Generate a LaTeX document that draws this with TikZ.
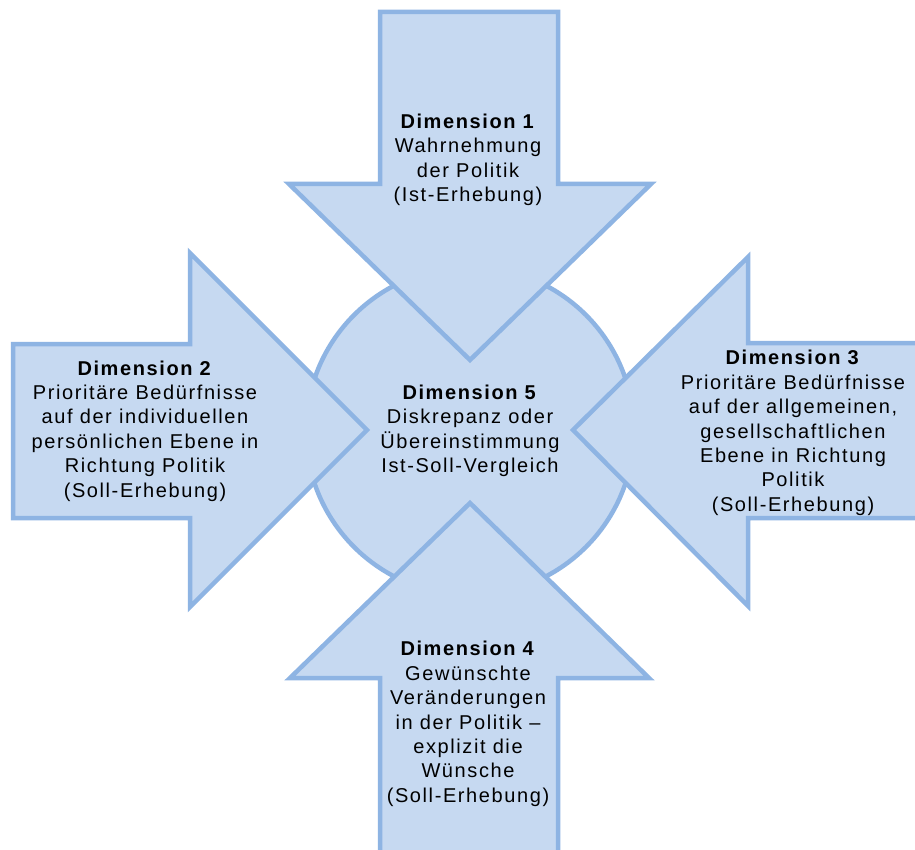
\documentclass[tikz,border=0pt]{standalone}
\usepackage{fontspec}
\setmainfont{Liberation Sans}[LetterSpace=8]
\definecolor{shapefill}{HTML}{C6D9F1}
\definecolor{shapeline}{HTML}{8EB4E3}
\begin{document}
\begin{tikzpicture}[x=1pt,y=-1pt,
  blueshape/.style={fill=shapefill,draw=shapeline,line width=4.5pt,line join=miter},
  dimtext/.style={align=center,font=\fontsize{20}{24.4}\selectfont,inner sep=0pt,text=black}]
\useasboundingbox (0,0) rectangle (915,850);
\clip (0,0) rectangle (915,850);
\fill[white] (0,0) rectangle (915,850);
% centre circle
\draw[blueshape] (470,431) circle[radius=164];
% top arrow
\draw[blueshape] (380,12) -- (558,12) -- (558,184) -- (651,184) -- (470,360) -- (289,184) -- (380,184) -- cycle;
% left arrow
\draw[blueshape] (13,344) -- (190,344) -- (190,253) -- (367,430) -- (190,607) -- (190,518) -- (13,518) -- cycle;
% right arrow
\draw[blueshape] (930,343) -- (748,343) -- (748,257) -- (573,430) -- (748,606) -- (748,518) -- (930,518);
% bottom arrow
\draw[blueshape] (380,870) -- (380,678) -- (290,678) -- (470,503) -- (649,678) -- (558,678) -- (558,870);
% texts
\node[dimtext] (d1) at (468,160) {\textbf{Dimension 1}\\Wahrnehmung\\der Politik\\(Ist-Erhebung)};
\node[dimtext] (d2) at (145,431) {\textbf{Dimension 2}\\Prioritäre Bedürfnisse\\auf der individuellen\\persönlichen Ebene in\\Richtung Politik\\(Soll-Erhebung)};
\node[dimtext] (d3) at (793,433) {\textbf{Dimension 3}\\Prioritäre Bedürfnisse\\auf der allgemeinen,\\gesellschaftlichen\\Ebene in Richtung\\Politik\\(Soll-Erhebung)};
\node[dimtext] (d5) at (470,431) {\textbf{Dimension 5}\\Diskrepanz oder\\Übereinstimmung\\Ist-Soll-Vergleich};
\node[dimtext] (d4) at (468,724) {\textbf{Dimension 4}\\Gewünschte\\Veränderungen\\in der Politik –\\explizit die\\Wünsche\\(Soll-Erhebung)};
\end{tikzpicture}
\end{document}
